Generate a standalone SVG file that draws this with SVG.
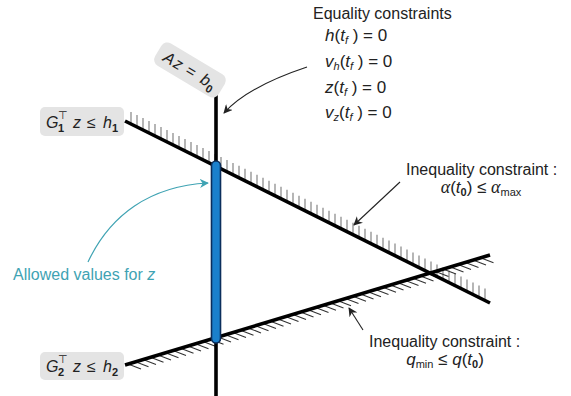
<svg xmlns="http://www.w3.org/2000/svg" width="571" height="396" viewBox="0 0 571 396">
<style>
text{font-family:"Liberation Sans","DejaVu Sans",sans-serif;fill:#222;font-size:16px}
.i{font-style:italic}
.s{font-size:11px}
.b{font-weight:bold}
.g{font-family:"Liberation Serif",serif;font-style:italic;font-size:18px}
.m{font-size:17px}
.lbl{fill:#e4e4e4}
.main{stroke:#000;stroke-width:3.6;fill:none}
.hu{stroke:#7a7a7a;stroke-width:1.1;fill:none}
.hl{stroke:#333;stroke-width:1.1;fill:none}
.arr{stroke:#222;stroke-width:1.1;fill:none;marker-end:url(#ah)}
.tarr{stroke:#3fa3b3;stroke-width:1.2;fill:none;marker-end:url(#aht)}
</style>
<defs>
<marker id="ah" viewBox="0 0 10 10" refX="9" refY="5" markerWidth="9" markerHeight="9" markerUnits="userSpaceOnUse" orient="auto"><path d="M0,0 L10,5 L0,10 L3,5 Z" fill="#222"/></marker>
<marker id="aht" viewBox="0 0 10 10" refX="9" refY="5" markerWidth="9" markerHeight="9" markerUnits="userSpaceOnUse" orient="auto"><path d="M0,0 L10,5 L0,10 L3,5 Z" fill="#3fa3b3"/></marker>
</defs>

<g id="hatch-upper">
<path class="hu" d="M131 124v-12M137 127v-12M143 130v-12M149 133v-12M155 136v-12M161 139v-12M167 141.9v-12M173 144.9v-12M179 147.9v-12M185 150.9v-12M191 153.9v-12M197 156.9v-12M203 159.9v-12M209 162.9v-12M215 165.9v-12M221 168.9v-12M227 171.9v-12M233 174.9v-12M239 177.8v-12M245 180.8v-12M251 183.8v-12M257 186.8v-12M263 189.8v-12M269 192.8v-12M275 195.8v-12M281 198.8v-12M287 201.8v-12M293 204.8v-12M299 207.8v-12M305 210.8v-12M311 213.8v-12M317 216.8v-12M323 219.7v-12M329 222.7v-12M335 225.7v-12M341 228.7v-12M347 231.7v-12M353 234.7v-12M359 237.7v-12M365 240.7v-12M371 243.7v-12M377 246.7v-12M383 249.7v-12M389 252.6v-12M395 255.6v-12M401 258.6v-12M407 261.6v-12M413 264.6v-12M419 267.6v-12M425 270.6v-12M431 273.6v-12M437 276.6v-12M443 279.6v-12M449 282.6v-12M455 285.6v-12M461 288.6v-12M467 291.5v-12M473 294.5v-12M479 297.5v-12M485 300.5v-12"/>
</g>
<g id="hatch-lower">
<path class="hl" d="M128 364.1l13 5M135.5 361.8l13 5M143 359.6l13 5M150.5 357.3l13 5M158 355.1l13 5M165.5 352.8l13 5M173 350.5l13 5M180.5 348.3l13 5M188 346l13 5M195.5 343.8l13 5M203 341.5l13 5M210.5 339.3l13 5M218 337l13 5M225.5 334.7l13 5M233 332.5l13 5M240.5 330.2l13 5M248 327.9l13 5M255.5 325.7l13 5M263 323.4l13 5M270.5 321.2l13 5M278 318.9l13 5M285.5 316.6l13 5M293 314.4l13 5M300.5 312.1l13 5M308 309.8l13 5M315.5 307.6l13 5M323 305.3l13 5M330.5 303.1l13 5M338 300.8l13 5M345.5 298.5l13 5M353 296.3l13 5M360.5 294l13 5M368 291.8l13 5M375.5 289.5l13 5M383 287.2l13 5M390.5 285l13 5M398 282.7l13 5M405.5 280.4l13 5M413 278.2l13 5M420.5 275.9l13 5M428 273.7l13 5M435.5 271.4l13 5M443 269.1l13 5M450.5 266.9l13 5M458 264.6l13 5M465.5 262.4l13 5M473 260.1l13 5M480.5 257.8l13 5"/>
</g>

<g id="constraint-lines">
<line class="main" x1="125" y1="121" x2="490" y2="303"/>
<line class="main" x1="125" y1="365" x2="490" y2="255"/>
<line class="main" x1="216" y1="93" x2="216" y2="396"/>
</g>

<g id="allowed-bar">
<rect x="211.5" y="161" width="9" height="182" rx="4.5" fill="#1a80cc" stroke="#0b2e5c" stroke-width="1.6"/>
</g>

<g id="label-Az">
<g transform="translate(190,70) rotate(31)">
<rect class="lbl" x="-37" y="-13" width="74" height="26" rx="7"/>
<text y="6" font-size="17"><tspan class="i" x="-29">A</tspan><tspan class="i" x="-17">z</tspan><tspan x="-3">=</tspan><tspan class="i" x="14">b</tspan><tspan class="s b" x="23" y="10">0</tspan></text>
</g>
</g>

<g id="label-G1">
<rect class="lbl" x="40" y="107" width="84" height="29" rx="5"/>
<text font-size="17"><tspan class="i" x="46" y="128">G</tspan><tspan class="s b" x="58" y="132">1</tspan><tspan class="s" x="58" y="119">⊤</tspan><tspan class="i" x="73" y="128">z</tspan><tspan x="87" y="128">≤</tspan><tspan class="i" x="103" y="128">h</tspan><tspan class="s b" x="112" y="132">1</tspan></text>
</g>

<g id="label-G2">
<rect class="lbl" x="40" y="352" width="84" height="28" rx="5"/>
<text font-size="17"><tspan class="i" x="46" y="372">G</tspan><tspan class="s b" x="58" y="376">2</tspan><tspan class="s" x="58" y="363">⊤</tspan><tspan class="i" x="73" y="372">z</tspan><tspan x="87" y="372">≤</tspan><tspan class="i" x="103" y="372">h</tspan><tspan class="s b" x="112" y="376">2</tspan></text>
</g>

<g id="equality">
<text x="313" y="19">Equality constraints</text>
<text x="325" y="41" class="m"><tspan class="i">h</tspan>(<tspan class="i">t</tspan><tspan class="s i" dy="3">f</tspan><tspan dy="-3"> ) = 0</tspan></text>
<text x="325" y="67" class="m"><tspan class="i">v</tspan><tspan class="s i" dy="3">h</tspan><tspan dy="-3">(</tspan><tspan class="i">t</tspan><tspan class="s i" dy="3">f</tspan><tspan dy="-3"> ) = 0</tspan></text>
<text x="325" y="93" class="m"><tspan class="i">z</tspan>(<tspan class="i">t</tspan><tspan class="s i" dy="3">f</tspan><tspan dy="-3"> ) = 0</tspan></text>
<text x="325" y="118" class="m"><tspan class="i">v</tspan><tspan class="s i" dy="3">z</tspan><tspan dy="-3">(</tspan><tspan class="i">t</tspan><tspan class="s i" dy="3">f</tspan><tspan dy="-3"> ) = 0</tspan></text>
</g>

<g id="inequality-alpha">
<text x="406" y="175">Inequality constraint :</text>
<text x="481" y="193" text-anchor="middle" class="m"><tspan class="g">α</tspan>(<tspan class="i">t</tspan><tspan class="s b" dy="3">0</tspan><tspan dy="-3">) ≤ </tspan><tspan class="g">α</tspan><tspan class="s" dy="3">max</tspan></text>
</g>

<g id="inequality-q">
<text x="369" y="347">Inequality constraint :</text>
<text x="445" y="365" text-anchor="middle" class="m"><tspan class="i">q</tspan><tspan class="s" dy="3">min</tspan><tspan dy="-3"> ≤ </tspan><tspan class="i">q</tspan>(<tspan class="i">t</tspan><tspan class="s b" dy="3">0</tspan><tspan dy="-3">)</tspan></text>
</g>

<g id="allowed-label">
<text x="13" y="280" style="fill:#3fa3b3">Allowed values for <tspan class="i">z</tspan></text>
</g>

<g id="connectors">
<path class="arr" d="M307 67 C268 80 240 95 224 113"/>
<path class="arr" d="M400 182 L354 225"/>
<path class="arr" d="M363 330 L349 308"/>
<path class="tarr" d="M88 262 C110 215 150 186 208 183"/>
</g>
</svg>
